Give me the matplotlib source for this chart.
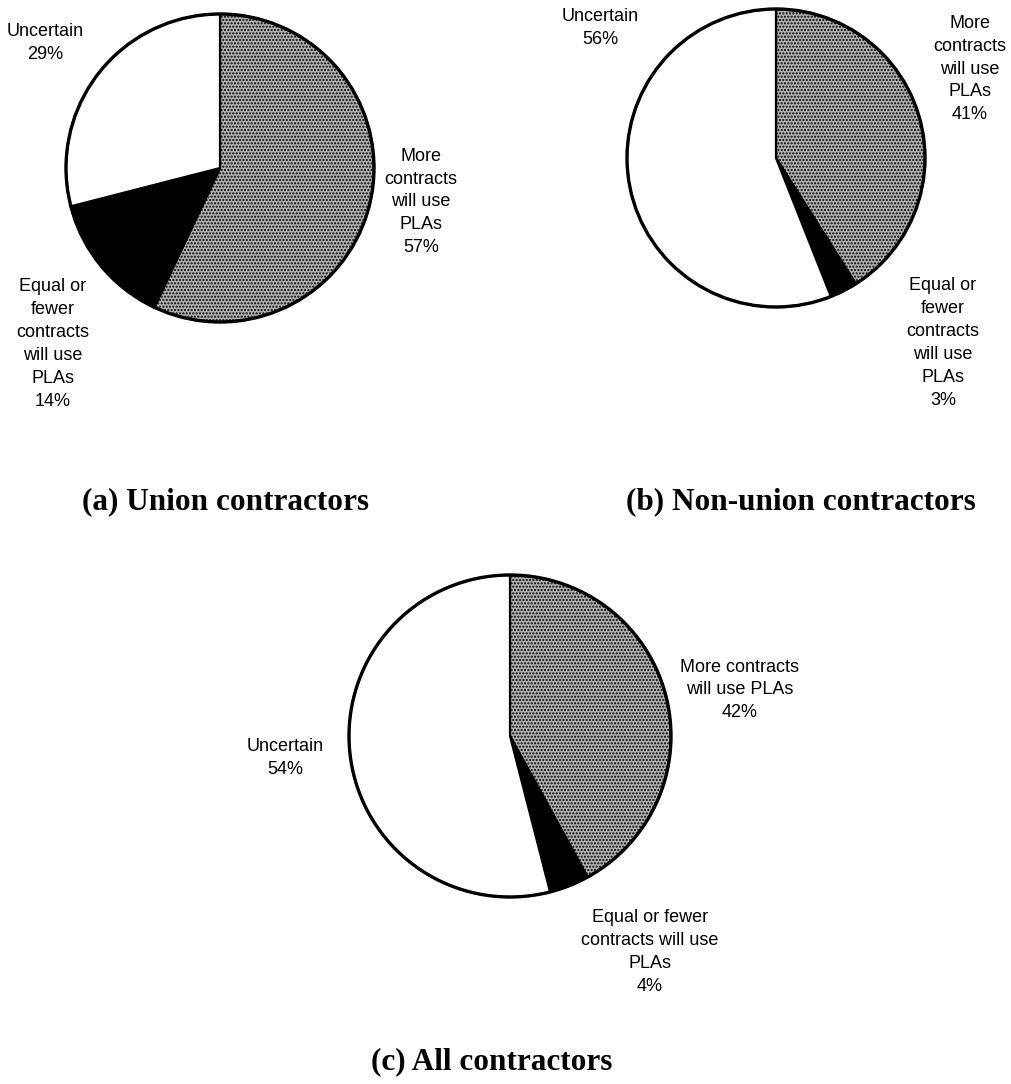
import matplotlib.pyplot as plt

plt.rcParams['font.family'] = ['Liberation Sans', 'DejaVu Sans']
plt.rcParams['hatch.color'] = 'black'
plt.rcParams['hatch.linewidth'] = 1.0

W, H = 1011, 1084

# data
cats = ['More contracts will use PLAs', 'Equal or fewer contracts will use PLAs', 'Uncertain']
union = [57, 14, 29]
nonunion = [41, 3, 56]
allc = [42, 4, 54]
titles = ['(a) Union contractors', '(b) Non-union contractors', '(c) All contractors']

fills = ['#b0b0b0', 'black', 'white']
hatches = ['.....', None, None]

fig = plt.figure(figsize=(W / 100, H / 100), dpi=100)
ax = fig.add_axes([0, 0, 1, 1])


def draw_pie(vals, cx, cy, r):
    wedges, _ = ax.pie(vals, center=(cx, H - cy), radius=r, startangle=90,
                       counterclock=False, colors=fills,
                       wedgeprops=dict(edgecolor='black', linewidth=1.6))
    for w, h in zip(wedges, hatches):
        if h:
            w.set_hatch(h)
    # outer ring
    circ = plt.Circle((cx, H - cy), r, fill=False, edgecolor='black', linewidth=2.4)
    ax.add_patch(circ)


def label(x, y, s):
    ax.text(x, H - y, s, ha='center', va='center', fontsize=13, linespacing=1.45)


# (a)
draw_pie(union, 220, 168, 154)
label(45, 43, 'Uncertain\n%d%%' % union[2])
label(421, 202, 'More\ncontracts\nwill use\nPLAs\n%d%%' % union[0])
label(53, 344, 'Equal or\nfewer\ncontracts\nwill use\nPLAs\n%d%%' % union[1])

# (b)
draw_pie(nonunion, 776, 158, 149)
label(600, 28, 'Uncertain\n%d%%' % nonunion[2])
label(970, 69, 'More\ncontracts\nwill use\nPLAs\n%d%%' % nonunion[0])
label(943, 343, 'Equal or\nfewer\ncontracts\nwill use\nPLAs\n%d%%' % nonunion[1])

# (c)
draw_pie(allc, 510, 736, 161)
label(740, 690, 'More contracts\nwill use PLAs\n%d%%' % allc[0])
label(285, 758, 'Uncertain\n%d%%' % allc[2])
label(650, 952, 'Equal or fewer\ncontracts will use\nPLAs\n%d%%' % allc[1])

for t, (x, y) in zip(titles, [(225, 502), (801, 502), (492, 1062)]):
    ax.text(x, H - y, t, ha='center', va='center', fontsize=22.5, fontweight='bold',
            family=['Liberation Serif', 'DejaVu Serif'])

# pie() resets the limits, so set them afterwards
ax.set_xlim(0, W)
ax.set_ylim(0, H)
ax.set_aspect('equal')
ax.axis('off')

fig.savefig('out.png', dpi=100, facecolor='white')
